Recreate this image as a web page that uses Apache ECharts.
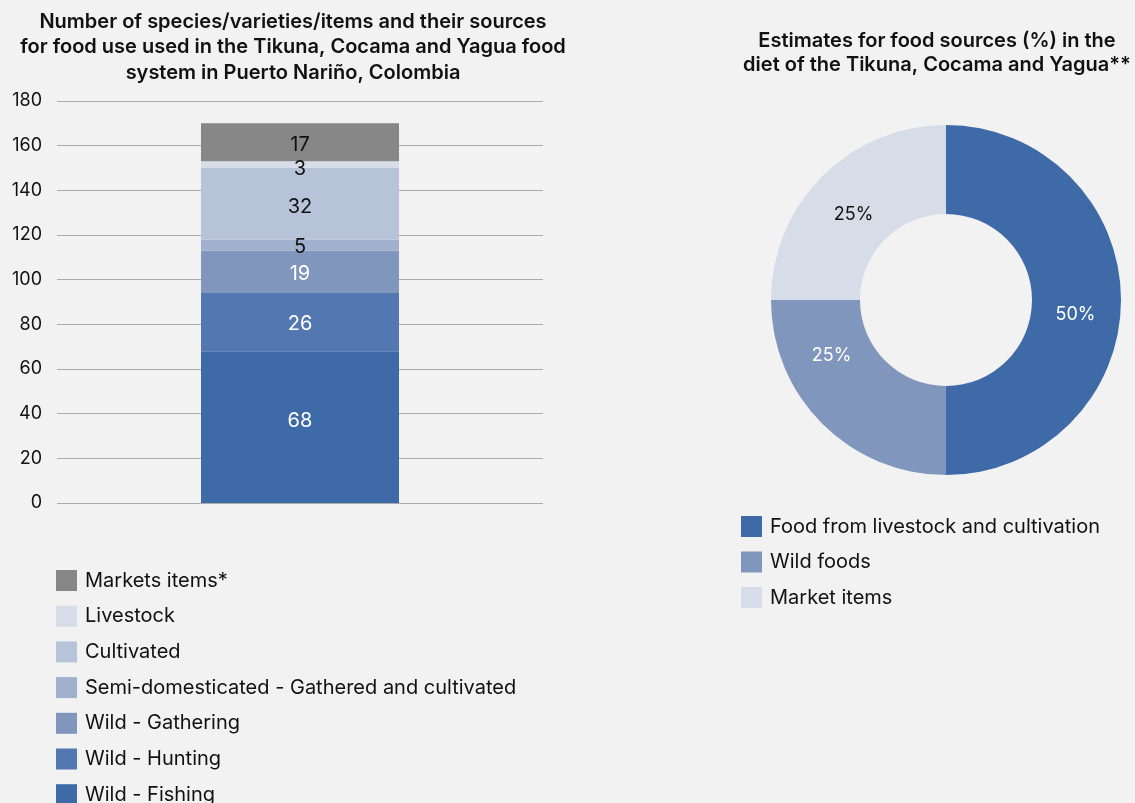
<!DOCTYPE html>
<html><head><meta charset="utf-8">
<script src="https://cdn.jsdelivr.net/npm/echarts@6/dist/echarts.min.js"></script>
<style>html,body{margin:0;padding:0;background:#f2f2f2;}#c{width:1135px;height:803px;}</style>
</head><body><div id="c"></div>
<script>
const categories = ['Puerto Nariño'];
const barSeriesNames = ['Wild - Fishing','Wild - Hunting','Wild - Gathering','Semi-domesticated - Gathered and cultivated','Cultivated','Livestock','Markets items*'];
const barValues = [68, 26, 19, 5, 32, 3, 17];
const yTicks = [0,20,40,60,80,100,120,140,160,180];
const pieNames = ['Food from livestock and cultivation','Wild foods','Market items'];
const pieValues = [50, 25, 25];

// styles
const barColors = ['#3f6aa8','#5377b0','#8096bd','#a1b0cc','#b7c3d8','#d7dde8','#878787'];
const barLabelColors = ['#fff','#fff','#fff','#111','#111','#111','#111'];
const barLabelShift = [-6, 2, 2, 2, 3, 4, 3];
const pieColors = ['#3f6aa8','#8096bd','#d7dde8'];
const pieLabelColors = ['#fff','#fff','#111'];
const pieLabelPads = [[30,8,0,0],[0,40,78,0],[18,0,0,4]];

const FONT = 'Inter';
const chart = echarts.init(document.getElementById('c'));
const barSeries = barSeriesNames.map((n,i)=>({
  name:n, type:'bar', stack:'total', barWidth:198,
  data:[barValues[i]],
  itemStyle:{color:barColors[i]},
  label:{show:true, position:'inside', offset:[0, barLabelShift[i]], color:barLabelColors[i], fontSize:20, fontFamily:FONT},
  xAxisIndex:0, yAxisIndex:0
}));
chart.setOption({
  backgroundColor:'#f2f2f2',
  animation:false,
  textStyle:{fontFamily:FONT},
  title:[
    {text:'Number of species/varieties/items and their sources\nfor food use used in the Tikuna, Cocama and Yagua food\nsystem in Puerto Nariño, Colombia',
     left:293, top:9, textAlign:'center', padding:0,
     textStyle:{fontSize:20, fontWeight:600, color:'#111', lineHeight:25.5, fontFamily:FONT}},
    {text:'Estimates for food sources (%) in the\ndiet of the Tikuna, Cocama and Yagua**',
     left:937, top:29, textAlign:'center', padding:0,
     textStyle:{fontSize:20, fontWeight:600, color:'#111', lineHeight:24, fontFamily:FONT}}
  ],
  legend:[
    {data:barSeriesNames.slice().reverse(), orient:'vertical', left:56, top:570, height:260, padding:0,
     itemWidth:21, itemHeight:21, itemGap:14.7, icon:'rect',
     textStyle:{fontSize:20, color:'#111', fontFamily:FONT, padding:[0,0,0,3]}},
    {data:pieNames, orient:'vertical', left:741, top:516, padding:0,
     itemWidth:21, itemHeight:21, itemGap:14.5, icon:'rect',
     textStyle:{fontSize:20, color:'#111', fontFamily:FONT, padding:[0,0,0,3]}}
  ],
  grid:{left:57, right:592, top:101, bottom:300},
  xAxis:{type:'category', data:categories, axisLine:{show:false}, axisTick:{show:false}, axisLabel:{show:false}},
  yAxis:{type:'value', min:yTicks[0], max:yTicks[yTicks.length-1], interval:yTicks[1]-yTicks[0],
    axisLine:{show:false}, axisTick:{show:false},
    axisLabel:{fontSize:18, color:'#111', margin:15, fontFamily:FONT},
    splitLine:{lineStyle:{color:'#aaaaaa', width:1}}},
  series:[...barSeries,
    {type:'pie', center:[946,300], radius:[86,175], startAngle:90, clockwise:true,
     data:pieNames.map((n,i)=>({name:n, value:pieValues[i], itemStyle:{color:pieColors[i]}})),
     label:{show:true, position:'inside', formatter:(p)=>'{t'+p.dataIndex+'|'+p.value+'%}', fontSize:18, fontFamily:FONT,
       rich:{
         t0:{color:pieLabelColors[0], fontSize:18, fontFamily:FONT, padding:pieLabelPads[0]},
         t1:{color:pieLabelColors[1], fontSize:18, fontFamily:FONT, padding:pieLabelPads[1]},
         t2:{color:pieLabelColors[2], fontSize:18, fontFamily:FONT, padding:pieLabelPads[2]}
       }},
     labelLine:{show:false}}
  ]
});
</script></body></html>
